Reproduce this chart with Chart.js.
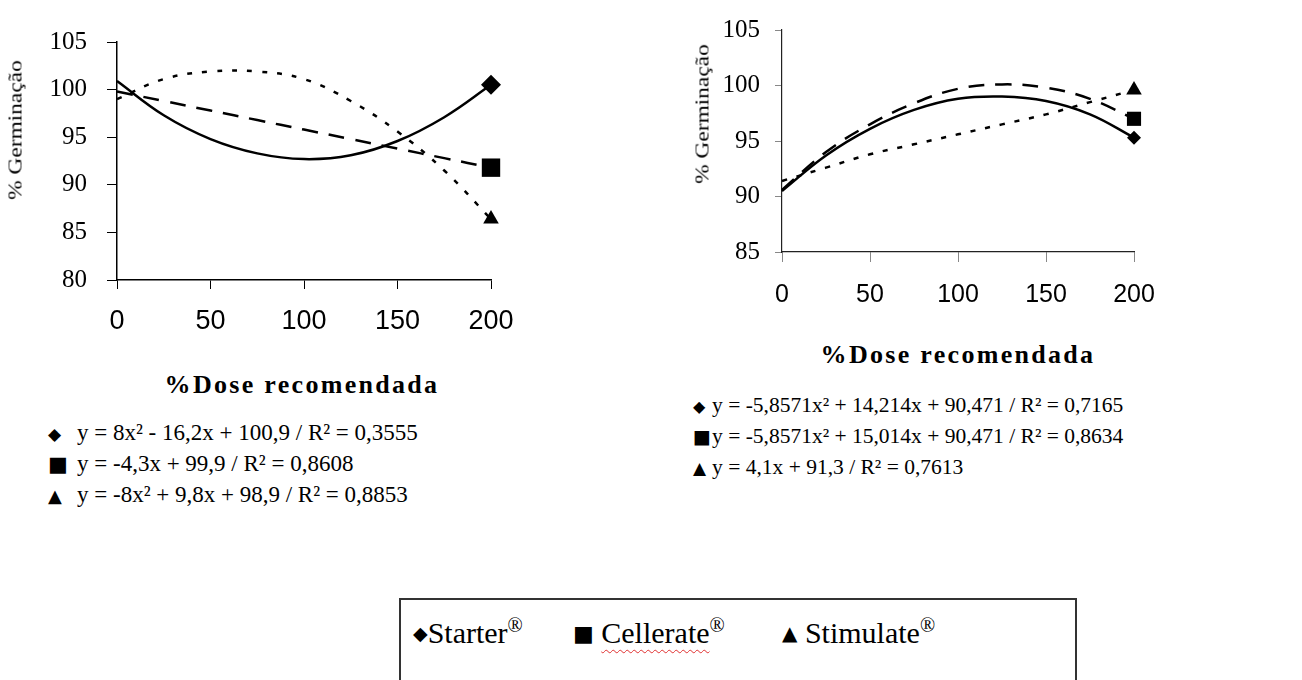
<!DOCTYPE html>
<html>
<head>
<meta charset="utf-8">
<script src="https://cdn.jsdelivr.net/npm/chart.js@4.4.1/dist/chart.umd.min.js"></script>
<style>
  body { margin: 0; background: #fff; width: 1302px; height: 680px; overflow: hidden; position: relative;
         font-family: "Liberation Serif", "Times New Roman", serif; color: #000; }
  canvas { position: absolute; }
  .ytitle { position: absolute; font-size: 18px; white-space: nowrap;
            transform: translate(-50%, -50%) rotate(-90deg) scaleX(1.3); }
  .xtitle { position: absolute; font-weight: bold; font-size: 26px; letter-spacing: 2.3px; white-space: nowrap;
            transform: translate(-50%, -50%); }
  .eq { position: absolute; white-space: nowrap; }
  .eq div { height: 31px; line-height: 31px; }
  .sym { font-family: "DejaVu Sans", sans-serif; display: inline-block; text-align: left; }
  .legendBox { position: absolute; left: 399px; top: 598px; width: 678px; height: 100px;
               border: 2px solid #333; box-sizing: border-box; }
  .item { position: absolute; top: 14px; font-size: 30px; white-space: nowrap; }
  .item sup { font-size: 20px; vertical-align: 11px; }
  .wavy { text-decoration: underline wavy #e03030; text-decoration-thickness: 1px; text-underline-offset: 6px; }
</style>
</head>
<body>
<canvas id="leftChart" width="620" height="350" style="left:0;top:0"></canvas>
<canvas id="rightChart" width="662" height="330" style="left:640px;top:0"></canvas>

<div class="ytitle" style="left:16px;top:130px">% Germinação</div>
<div class="ytitle" style="left:703px;top:114px">% Germinação</div>
<div class="xtitle" style="left:302px;top:385px">%Dose recomendada</div>
<div class="xtitle" style="left:958px;top:355px">%Dose recomendada</div>

<div class="eq" id="eqLeft" style="left:48px;top:417px;font-size:23px"></div>
<div class="eq" id="eqRight" style="left:693px;top:390px;font-size:21.5px"></div>

<div class="legendBox">
  <span class="item" style="left:12px"><span class="sym" style="font-size:19px;vertical-align:3px">◆</span>Starter<sup>®</sup></span>
  <span class="item" style="left:172px"><span class="sym" style="font-size:22px;vertical-align:2px">■</span> <span class="wavy">Cellerate</span><sup>®</sup></span>
  <span class="item" style="left:381px"><span class="sym" style="font-size:20px;vertical-align:3px">▲</span> Stimulate<sup>®</sup></span>
</div>

<script>
// dose (% of recommended) on the x axis
const doses = [0, 25, 50, 75, 100, 125, 150, 175, 200];
const xTicks = [0, 50, 100, 150, 200];

// left panel, % germination
const starterLeft   = [100.9, 97.3, 94.8, 93.3, 92.7, 93.1, 94.6, 97.1, 100.5];
const cellerateLeft = [99.8, 98.8, 97.8, 96.8, 95.8, 94.8, 93.8, 92.8, 91.8];
const stimulateLeft = [99.0, 101.1, 101.9, 101.9, 101.1, 98.8, 95.6, 91.5, 86.4];
const yTicksLeft = [80, 85, 90, 95, 100, 105];

// right panel, % germination
const starterRight   = [90.5, 93.7, 96.1, 97.8, 98.8, 99.0, 98.6, 97.4, 95.3];
const cellerateRight = [90.6, 94.0, 96.5, 98.4, 99.7, 100.1, 99.8, 98.8, 97.0];
const stimulateRight = [91.4, 92.6, 93.8, 94.7, 95.6, 96.5, 97.4, 98.5, 99.6];
const yTicksRight = [85, 90, 95, 100, 105];

const eqLeft = [
    'y = 8x² - 16,2x + 100,9 / R² = 0,3555',
    'y = -4,3x + 99,9 / R² = 0,8608',
    'y = -8x² + 9,8x + 98,9 / R² = 0,8853'
];
const eqRight = [
    'y = -5,8571x² + 14,214x + 90,471 / R² = 0,7165',
    'y = -5,8571x² + 15,014x + 90,471 / R² = 0,8634',
    'y = 4,1x + 91,3 / R² = 0,7613'
];

const symbols = ['◆', '■', '▲'];

function fillEquations(id, lines, symWidth, symSizes) {
    const box = document.getElementById(id);
    lines.forEach((text, i) => {
        const row = document.createElement('div');
        row.innerHTML = `<span class="sym" style="width:${symWidth}px;font-size:${symSizes[i]}px">${symbols[i]}</span>${text}`;
        box.appendChild(row);
    });
}

function toPoints(values) {
    return values.map((v, i) => ({ x: doses[i], y: v }));
}

function drawPanel(canvasId, series, yTicks, box) {
    const ctx = document.getElementById(canvasId).getContext('2d');
    const last = doses.length - 1;
    const styles = [
        { dash: [], point: 'rectRot', r: box.markers[0] },
        { dash: [16, 11], point: 'rect', r: box.markers[1] },
        { dash: [5, 10], point: 'triangle', r: box.markers[2] }
    ];

    return new Chart(ctx, {
        type: 'line',
        data: {
            datasets: series.map((values, k) => ({
                label: ['Starter®', 'Cellerate®', 'Stimulate®'][k],
                data: toPoints(values),
                borderColor: '#000',
                backgroundColor: '#000',
                borderWidth: 2.5,
                borderDash: styles[k].dash,
                tension: 0.4,
                fill: false,
                clip: false,
                pointStyle: styles[k].point,
                pointRadius: c => c.dataIndex === last ? styles[k].r : 0,
                pointBorderWidth: 0
            }))
        },
        options: {
            responsive: false,
            animation: false,
            layout: { padding: { left: 0, top: box.top, right: box.right, bottom: 0 } },
            plugins: { legend: { display: false }, tooltip: { enabled: false } },
            scales: {
                x: {
                    type: 'linear',
                    min: 0,
                    max: 200,
                    afterBuildTicks: s => { s.ticks = xTicks.map(v => ({ value: v })); },
                    afterFit: s => { s.height = box.xh; },
                    ticks: {
                        color: '#000',
                        padding: box.xPad,
                        font: { family: 'Liberation Sans', size: box.xFont }
                    },
                    grid: { drawOnChartArea: false, drawTicks: true, tickLength: box.xTick, color: box.tickColor },
                    border: { display: true, color: box.axisColor, width: box.axisWidth }
                },
                y: {
                    min: yTicks[0],
                    max: yTicks[yTicks.length - 1],
                    afterBuildTicks: s => { s.ticks = yTicks.map(v => ({ value: v })); },
                    afterFit: s => { s.width = box.yw; },
                    ticks: {
                        color: '#000',
                        padding: box.yPad,
                        font: { family: 'Liberation Serif', size: 25 }
                    },
                    grid: { drawOnChartArea: false, drawTicks: true, tickLength: box.yTick, color: box.tickColor },
                    border: { display: true, color: box.axisColor, width: box.axisWidth }
                }
            }
        }
    });
}

drawPanel('leftChart', [starterLeft, cellerateLeft, stimulateLeft], yTicksLeft, {
    top: 42, right: 129, yw: 117, xh: 70,
    xPad: 16, xFont: 27, xTick: 9, yPad: 20, yTick: 10,
    axisColor: '#000', tickColor: '#000', axisWidth: 1.5,
    markers: [10, 13, 9]
});

drawPanel('rightChart', [starterRight, cellerateRight, stimulateRight], yTicksRight, {
    top: 17, right: 168, yw: 142, xh: 78,
    xPad: 18, xFont: 25, xTick: 10, yPad: 15, yTick: 7,
    axisColor: '#222', tickColor: '#888', axisWidth: 1.2,
    markers: [7, 10, 9]
});

fillEquations('eqLeft', eqLeft, 29, [17, 21, 18]);
fillEquations('eqRight', eqRight, 19, [16, 19, 17]);
</script>
</body>
</html>
